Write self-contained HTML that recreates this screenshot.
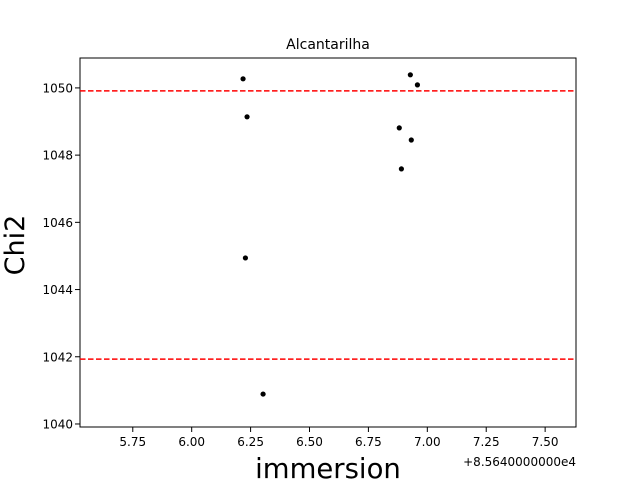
<!DOCTYPE html>
<html><head><meta charset="utf-8"><style>
html,body{margin:0;padding:0;background:#fff;}
svg{display:block;font-family:"DejaVu Sans","Liberation Sans",sans-serif;}
</style></head><body>
<svg id="chart" width="640" height="480"></svg>
<script>
const xVals=[6.218,6.235,6.228,6.303,6.928,6.958,6.881,6.932,6.890];
const yVals=[1050.27,1049.14,1044.94,1040.89,1050.39,1050.09,1048.81,1048.45,1047.59];
const hLines=[1049.91,1041.93];
const xTicks=[5.75,6.00,6.25,6.50,6.75,7.00,7.25,7.50];
const yTicks=[1040,1042,1044,1046,1048,1050];
const L=80,R=576,T=58,B=427;
const xmin=5.526,xmax=7.631,ymin=1039.91,ymax=1050.89;
const sx=v=>L+(v-xmin)/(xmax-xmin)*(R-L);
const sy=v=>B-(v-ymin)/(ymax-ymin)*(B-T);
const svg=document.getElementById('chart');
const NS='http://www.w3.org/2000/svg';
function mk(t,a,txt){const e=document.createElementNS(NS,t);for(const k in a)e.setAttribute(k,a[k]);if(txt!==undefined)e.textContent=txt;svg.appendChild(e);return e;}
let e;
e=mk('rect',{x:L,y:T,width:R-L,height:B-T,fill:'none',stroke:'#000','stroke-width':1});


xTicks.forEach(t=>{const x=sx(t);
e=mk('line',{x1:x,x2:x,y1:B,y2:B+5,stroke:'#000'});


e=mk('text',{x:x,y:B+19,'font-size':12,'text-anchor':'middle'},t.toFixed(2));


});
yTicks.forEach(t=>{const y=sy(t);
e=mk('line',{x1:L-5,x2:L,y1:y,y2:y,stroke:'#000'});


e=mk('text',{x:L-7,y:y+4.5,'font-size':12,'text-anchor':'end'},String(t));


});
hLines.forEach(v=>{const y=sy(v);
e=mk('line',{x1:L,x2:R,y1:y,y2:y,stroke:'#ff0000','stroke-width':1.5,'stroke-dasharray':'5.5,2.5'});


});
xVals.forEach((xv,i)=>{
e=mk('circle',{cx:sx(xv),cy:sy(yVals[i]),r:2.6,fill:'#000'});


});
e=mk('text',{x:(L+R)/2,y:49,'font-size':14,'text-anchor':'middle'},'Alcantarilha');


e=mk('text',{x:328,y:478,'font-size':27.5,'text-anchor':'middle'},'immersion');


e=mk('text',{x:0,y:0,'font-size':27,'text-anchor':'middle',transform:'translate(24,245) rotate(-90)'},'Chi2');


e=mk('text',{x:576,y:466,'font-size':12,'text-anchor':'end'},'+8.5640000000e4');


</script>
</body></html>
